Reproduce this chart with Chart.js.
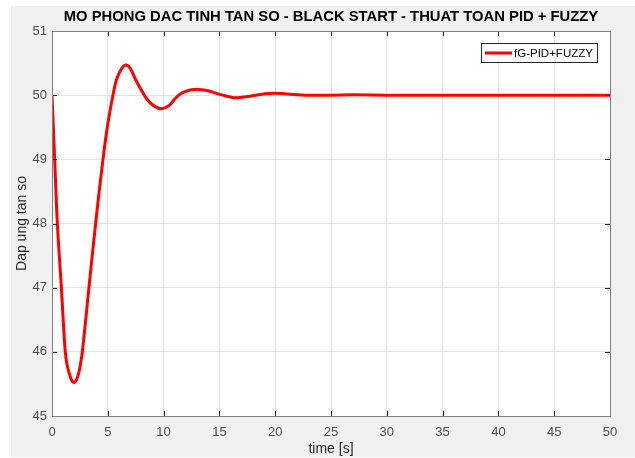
<!DOCTYPE html>
<html>
<head>
<meta charset="utf-8">
<script src="https://cdn.jsdelivr.net/npm/chart.js@4/dist/chart.umd.min.js"></script>
<style>
  html, body { margin: 0; padding: 0; background: #ffffff; }
  #wrap { width: 635px; height: 458px; }
</style>
</head>
<body>
<div id="wrap"><canvas id="c" width="635" height="458"></canvas></div>
<script>
// Frequency response during black start, PID + fuzzy controller
const times = [0, 0.12, 0.24, 0.48, 0.84, 1.02, 1.19, 1.35, 1.52, 1.75, 1.97, 2.2, 2.42, 2.55, 2.72, 3.31, 3.91, 4.57, 5.0, 5.46, 5.76, 6.06, 6.4, 6.66, 7.0, 7.5, 8.0, 8.5, 9.0, 9.5, 9.9, 10.5, 11.0, 11.5, 12.0, 12.5, 13.2, 14.0, 14.5, 15.3, 16.0, 16.6, 17.5, 18.25, 19.0, 19.9, 21.0, 22.8, 25.0, 27.0, 30.0, 35.0, 40.0, 45.0, 50.0];
const freq  = [50, 49.5, 49.0, 48.0, 47.0, 46.45, 46.0, 45.8, 45.68, 45.56, 45.52, 45.565, 45.69, 45.81, 46.0, 47.0, 48.0, 49.0, 49.55, 50.0, 50.23, 50.36, 50.45, 50.47, 50.42, 50.24, 50.08, 49.94, 49.85, 49.8, 49.79, 49.84, 49.94, 50.02, 50.06, 50.085, 50.09, 50.07, 50.04, 50.0, 49.97, 49.96, 49.98, 50.0, 50.02, 50.03, 50.02, 50.0, 50.0, 50.005, 50.0, 50.0, 50.0, 50.0, 50.0];
const xTickValues = [0, 5, 10, 15, 20, 25, 30, 35, 40, 45, 50];
const yTickValues = [45, 46, 47, 48, 49, 50, 51];
const seriesName = 'fG-PID+FUZZY';
const chartTitle = 'MO PHONG DAC TINH TAN SO - BLACK START - THUAT TOAN PID + FUZZY';

const FONT = '"Liberation Sans", Arial, sans-serif';
const points = times.map((t, i) => ({ x: t, y: freq[i] }));

const framePlugin = {
  id: 'frame',
  beforeDraw(chart) {
    const { ctx, chartArea: a } = chart;
    ctx.save();
    ctx.fillStyle = '#ffffff';
    ctx.fillRect(0, 0, chart.width, chart.height);
    ctx.fillStyle = '#f0f0f0';
    ctx.fillRect(11, 6, chart.width - 11, chart.height - 7);
    ctx.fillStyle = '#ffffff';
    ctx.fillRect(a.left, a.top, a.right - a.left, a.bottom - a.top);
    ctx.restore();
  },
  afterDraw(chart) {
    const { ctx, chartArea: a, scales } = chart;
    ctx.save();
    // inward tick marks
    const L = 5;
    ctx.strokeStyle = '#262626';
    ctx.lineWidth = 1;
    ctx.beginPath();
    xTickValues.forEach(v => {
      const px = Math.round(scales.x.getPixelForValue(v)) + 0.5;
      ctx.moveTo(px, a.bottom); ctx.lineTo(px, a.bottom - L);
      ctx.moveTo(px, a.top); ctx.lineTo(px, a.top + L);
    });
    yTickValues.forEach(v => {
      const py = Math.round(scales.y.getPixelForValue(v)) + 0.5;
      ctx.moveTo(a.left, py); ctx.lineTo(a.left + L, py);
      ctx.moveTo(a.right, py); ctx.lineTo(a.right - L, py);
    });
    ctx.stroke();
    // axes box
    ctx.strokeStyle = '#808080';
    ctx.strokeRect(Math.round(a.left) + 0.5, Math.round(a.top) + 0.5,
                   Math.round(a.right - a.left), Math.round(a.bottom - a.top));

    // title
    ctx.fillStyle = '#000000';
    ctx.font = 'bold 14.8px ' + FONT;
    ctx.textAlign = 'center';
    ctx.textBaseline = 'middle';
    ctx.fillText(chartTitle, (a.left + a.right) / 2, 17);

    // legend box
    const bx = 481, by = 43, bw = 116, bh = 19;
    ctx.fillStyle = '#ffffff';
    ctx.fillRect(bx, by, bw, bh);
    ctx.strokeStyle = '#262626';
    ctx.strokeRect(bx + 0.5, by + 0.5, bw, bh);
    ctx.strokeStyle = '#ff0000';
    ctx.lineWidth = 3;
    ctx.beginPath();
    ctx.moveTo(485, by + bh / 2 + 0.5);
    ctx.lineTo(512, by + bh / 2 + 0.5);
    ctx.stroke();
    ctx.fillStyle = '#000000';
    ctx.font = '11.5px ' + FONT;
    ctx.textAlign = 'left';
    ctx.fillText(seriesName, 514, by + bh / 2 + 1);
    ctx.restore();
  }
};

new Chart(document.getElementById('c'), {
  type: 'line',
  data: {
    datasets: [{
      label: seriesName,
      data: points,
      borderColor: '#ff0000',
      borderWidth: 3,
      pointRadius: 0,
      fill: false,
      tension: 0.4
    }]
  },
  options: {
    responsive: false,
    animation: false,
    layout: { padding: { top: 31, right: 25, left: 14, bottom: 0 } },
    plugins: {
      legend: { display: false },
      title: { display: false },
      tooltip: { enabled: false }
    },
    scales: {
      x: {
        type: 'linear',
        min: 0, max: 50,
        afterBuildTicks: s => { s.ticks = xTickValues.map(v => ({ value: v })); },
        afterFit: s => { s.height = 42; },
        ticks: { color: '#4d4d4d', font: { size: 13, family: FONT }, padding: 9, maxRotation: 0 },
        grid: { color: '#e3e3e3', drawTicks: false },
        border: { display: false },
        title: { display: true, text: 'time [s]', color: '#262626', font: { size: 14, family: FONT }, padding: { top: 0, bottom: 0 } }
      },
      y: {
        min: 45, max: 51,
        afterBuildTicks: s => { s.ticks = yTickValues.map(v => ({ value: v })); },
        afterFit: s => { s.width = 38; },
        ticks: { color: '#4d4d4d', font: { size: 13, family: FONT }, padding: 5 },
        grid: { color: '#e3e3e3', drawTicks: false },
        border: { display: false },
        title: { display: true, text: 'Dap ung tan so', color: '#262626', font: { size: 14, family: FONT }, padding: { top: 0, bottom: 0 } }
      }
    }
  },
  plugins: [framePlugin]
});
</script>
</body>
</html>
